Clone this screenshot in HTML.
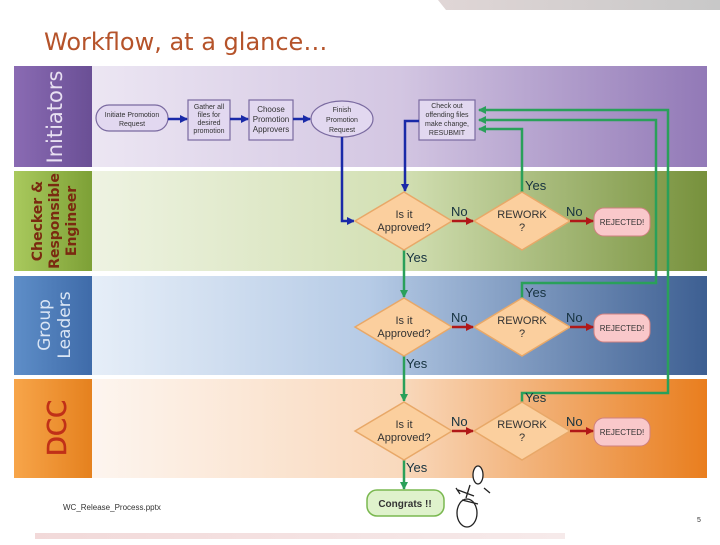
<!DOCTYPE html>
<html><head><style>
body{margin:0;width:720px;height:540px;background:#fff;overflow:hidden;font-family:"Liberation Sans",sans-serif}
</style></head><body>
<svg width="720" height="540" viewBox="0 0 720 540" xmlns="http://www.w3.org/2000/svg">
<defs>
<linearGradient id="g1" x1="0" x2="1"><stop offset="0" stop-color="#ece6f3"/><stop offset=".5" stop-color="#d3c6e2"/><stop offset="1" stop-color="#9279b7"/></linearGradient>
<linearGradient id="g2" x1="0" x2="1"><stop offset="0" stop-color="#eef3e2"/><stop offset=".5" stop-color="#d3e0b4"/><stop offset="1" stop-color="#77913c"/></linearGradient>
<linearGradient id="g3" x1="0" x2="1"><stop offset="0" stop-color="#e6eef8"/><stop offset=".45" stop-color="#b6cbe6"/><stop offset="1" stop-color="#3d5f92"/></linearGradient>
<linearGradient id="g4" x1="0" x2="1"><stop offset="0" stop-color="#fdf5ef"/><stop offset=".5" stop-color="#f9d9bd"/><stop offset="1" stop-color="#e97e1e"/></linearGradient>
<linearGradient id="h1" x1="0" x2="1"><stop offset="0" stop-color="#8a6bb3"/><stop offset="1" stop-color="#6a4f95"/></linearGradient>
<linearGradient id="h2" x1="0" x2="1"><stop offset="0" stop-color="#a9c95d"/><stop offset="1" stop-color="#7da036"/></linearGradient>
<linearGradient id="h3" x1="0" x2="1"><stop offset="0" stop-color="#5e8ec8"/><stop offset="1" stop-color="#3f6ba9"/></linearGradient>
<linearGradient id="h4" x1="0" x2="1"><stop offset="0" stop-color="#f7a54a"/><stop offset="1" stop-color="#e5811e"/></linearGradient>
<linearGradient id="topb" x1="0" x2="1"><stop offset="0" stop-color="#e0d6d6"/><stop offset="1" stop-color="#c8c8c8"/></linearGradient>
<linearGradient id="botb" x1="0" x2="1"><stop offset="0" stop-color="#f2d9d9"/><stop offset="1" stop-color="#f6eaea"/></linearGradient>
<marker id="ab" markerUnits="userSpaceOnUse" markerWidth="8" markerHeight="8" refX="7" refY="4" orient="auto"><path d="M0,0L8,4L0,8z" fill="#1a2aa8"/></marker>
<marker id="ag" markerUnits="userSpaceOnUse" markerWidth="8" markerHeight="8" refX="7" refY="4" orient="auto"><path d="M0,0L8,4L0,8z" fill="#2aa05a"/></marker>
<marker id="ar" markerUnits="userSpaceOnUse" markerWidth="8" markerHeight="8" refX="7" refY="4" orient="auto"><path d="M0,0L8,4L0,8z" fill="#b01818"/></marker>
</defs>
<polygon points="438,0 720,0 720,10 446,10" fill="url(#topb)"/>
<rect x="35" y="533" width="530" height="6" fill="url(#botb)"/>
<text x="44" y="50" font-size="24" fill="#b5532a" font-family="DejaVu Sans, sans-serif">Workflow, at a glance…</text>

<rect x="92" y="66" width="615" height="101" fill="url(#g1)"/>
<rect x="92" y="171" width="615" height="100" fill="url(#g2)"/>
<rect x="92" y="276" width="615" height="99" fill="url(#g3)"/>
<rect x="92" y="379" width="615" height="99" fill="url(#g4)"/>
<rect x="14" y="66" width="78" height="101" fill="url(#h1)"/>
<rect x="14" y="171" width="78" height="100" fill="url(#h2)"/>
<rect x="14" y="276" width="78" height="99" fill="url(#h3)"/>
<rect x="14" y="379" width="78" height="99" fill="url(#h4)"/>
<g font-family="DejaVu Sans, sans-serif" text-anchor="middle">
<text transform="translate(62,117) rotate(-90)" font-size="21" fill="#e8e0f2">Initiators</text>
<text transform="translate(42,221) rotate(-90)" font-size="14" fill="#7a2a10" font-weight="bold">Checker &amp;</text>
<text transform="translate(59,221) rotate(-90)" font-size="14" fill="#7a2a10" font-weight="bold">Responsible</text>
<text transform="translate(76,221) rotate(-90)" font-size="14" fill="#7a2a10" font-weight="bold">Engineer</text>
<text transform="translate(50,325) rotate(-90)" font-size="17" fill="#dbe6f5">Group</text>
<text transform="translate(70,325) rotate(-90)" font-size="17" fill="#dbe6f5">Leaders</text>
<text transform="translate(66,428) rotate(-90)" font-size="26" fill="#c03018" stroke="#c03018" stroke-width=".5">DCC</text>
</g>

<g fill="#e2d8f0" stroke="#7a6aa0" stroke-width="1.2">
<rect x="96" y="105" width="72" height="26" rx="13"/>
<rect x="188" y="100" width="42" height="40"/>
<rect x="249" y="100" width="44" height="40"/>
<ellipse cx="342" cy="119" rx="31" ry="18"/>
<rect x="419" y="100" width="56" height="40"/>
</g>
<g font-size="7" fill="#333" text-anchor="middle">
<text x="132" y="117">Initiate Promotion</text><text x="132" y="126">Request</text>
<text x="209" y="109">Gather all</text><text x="209" y="117">files for</text><text x="209" y="125">desired</text><text x="209" y="133">promotion</text>
<text x="271" y="112" font-size="8">Choose</text><text x="271" y="122" font-size="8">Promotion</text><text x="271" y="132" font-size="8">Approvers</text>
<text x="342" y="112">Finish</text><text x="342" y="122">Promotion</text><text x="342" y="132">Request</text>
<text x="447" y="108">Check out</text><text x="447" y="117">offending files</text><text x="447" y="126">make change,</text><text x="447" y="135">RESUBMIT</text>
</g>
<g stroke="#1a2aa8" stroke-width="2.5" fill="none">
<line x1="168" y1="119" x2="187" y2="119" marker-end="url(#ab)"/>
<line x1="230" y1="119" x2="248" y2="119" marker-end="url(#ab)"/>
<line x1="293" y1="119" x2="310" y2="119" marker-end="url(#ab)"/>
<polyline points="342,137 342,221 354,221" marker-end="url(#ab)"/>
<polyline points="419,121 405,121 405,191" marker-end="url(#ab)"/>
</g>

<g stroke="#2aa05a" stroke-width="2.5" fill="none">
<polyline points="522,192 522,129 479,129" marker-end="url(#ag)"/>
<polyline points="522,298 522,283 656,283 656,120 479,120" marker-end="url(#ag)"/>
<polyline points="522,402 522,393 668,393 668,110 479,110" marker-end="url(#ag)"/>
<line x1="404" y1="249" x2="404" y2="297" marker-end="url(#ag)"/>
<line x1="404" y1="355" x2="404" y2="401" marker-end="url(#ag)"/>
<line x1="404" y1="459" x2="404" y2="489" marker-end="url(#ag)"/>
</g>

<g font-size="11" text-anchor="middle">
<g>
<polygon points="355,221 404,192 452,221 404,250" fill="#fbcf9e" stroke="#e8a868" stroke-width="1.5"/>
<polygon points="474,221 522,192 570,221 522,250" fill="#fbcf9e" stroke="#e8a868" stroke-width="1.5"/>
<rect x="594" y="208" width="56" height="28" rx="10" fill="#f9c8ca" stroke="#d08080"/>
<text x="404" y="218" fill="#333">Is it</text><text x="404" y="231" fill="#333">Approved?</text>
<text x="522" y="218" fill="#333">REWORK</text><text x="522" y="231" fill="#333">?</text>
<text x="622" y="225" font-size="8" fill="#333">REJECTED!</text>
</g>
<g transform="translate(0,106)">
<polygon points="355,221 404,192 452,221 404,250" fill="#fbcf9e" stroke="#e8a868" stroke-width="1.5"/>
<polygon points="474,221 522,192 570,221 522,250" fill="#fbcf9e" stroke="#e8a868" stroke-width="1.5"/>
<rect x="594" y="208" width="56" height="28" rx="10" fill="#f9c8ca" stroke="#d08080"/>
<text x="404" y="218" fill="#333">Is it</text><text x="404" y="231" fill="#333">Approved?</text>
<text x="522" y="218" fill="#333">REWORK</text><text x="522" y="231" fill="#333">?</text>
<text x="622" y="225" font-size="8" fill="#333">REJECTED!</text>
</g>
<g transform="translate(0,210)">
<polygon points="355,221 404,192 452,221 404,250" fill="#fbcf9e" stroke="#e8a868" stroke-width="1.5"/>
<polygon points="474,221 522,192 570,221 522,250" fill="#fbcf9e" stroke="#e8a868" stroke-width="1.5"/>
<rect x="594" y="208" width="56" height="28" rx="10" fill="#f9c8ca" stroke="#d08080"/>
<text x="404" y="218" fill="#333">Is it</text><text x="404" y="231" fill="#333">Approved?</text>
<text x="522" y="218" fill="#333">REWORK</text><text x="522" y="231" fill="#333">?</text>
<text x="622" y="225" font-size="8" fill="#333">REJECTED!</text>
</g>
</g>
<g stroke="#b01818" stroke-width="2.5">
<line x1="452" y1="221" x2="473" y2="221" marker-end="url(#ar)"/>
<line x1="570" y1="221" x2="593" y2="221" marker-end="url(#ar)"/>
<line x1="452" y1="327" x2="473" y2="327" marker-end="url(#ar)"/>
<line x1="570" y1="327" x2="593" y2="327" marker-end="url(#ar)"/>
<line x1="452" y1="431" x2="473" y2="431" marker-end="url(#ar)"/>
<line x1="570" y1="431" x2="593" y2="431" marker-end="url(#ar)"/>
</g>
<g font-size="13" fill="#16323f">
<text x="451" y="216">No</text><text x="566" y="216">No</text><text x="525" y="190">Yes</text><text x="406" y="262">Yes</text>
<text x="451" y="322">No</text><text x="566" y="322">No</text><text x="525" y="297">Yes</text><text x="406" y="368">Yes</text>
<text x="451" y="426">No</text><text x="566" y="426">No</text><text x="525" y="402">Yes</text><text x="406" y="472">Yes</text>
</g>
<rect x="367" y="490" width="77" height="26" rx="10" fill="#dff2cc" stroke="#7ab850" stroke-width="1.5"/>
<text x="405" y="507" font-size="10" font-weight="bold" fill="#333" text-anchor="middle">Congrats !!</text>
<g stroke="#222" stroke-width="1.3" fill="#fff">
<ellipse cx="467" cy="513" rx="10" ry="14"/>
<ellipse cx="478" cy="475" rx="5" ry="9"/>
<path d="M470,485 L466,498 M458,490 L474,496 M462,500 L478,504" fill="none"/>
<path d="M456,488 L460,494 M484,488 L490,493" fill="none"/>
</g>
<text x="63" y="510" font-size="8" fill="#333">WC_Release_Process.pptx</text>
<text x="697" y="522" font-size="7" fill="#333">5</text>
</svg>
</body></html>
